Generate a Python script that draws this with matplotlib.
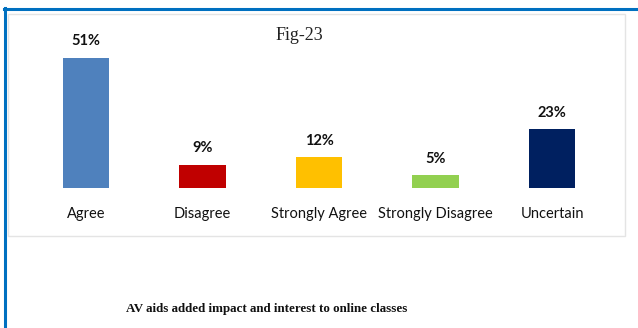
import matplotlib
matplotlib.use("Agg")
import matplotlib.pyplot as plt
from matplotlib.patches import Rectangle
from matplotlib.lines import Line2D

categories = ["Agree", "Disagree", "Strongly Agree", "Strongly Disagree", "Uncertain"]
values = [51, 9, 12, 5, 23]
value_labels = ["51%", "9%", "12%", "5%", "23%"]
colors = ["#4F81BD", "#C00000", "#FFC000", "#92D050", "#002060"]
fig_label = "Fig-23"
caption = "AV aids added impact and interest to online classes"

W, H = 638, 328
fig = plt.figure(figsize=(W / 100, H / 100), dpi=100)


def px_rect(x0, y0, x1, y1):
    """Pixel box (top-left origin) -> figure fraction [l, b, w, h]."""
    return [x0 / W, 1 - y1 / H, (x1 - x0) / W, (y1 - y0) / H]


def fx(x):
    return x / W


def fy(y):
    return 1 - y / H


# outer frame: blue rule on top and left
fig.add_artist(Line2D([fx(4), fx(638)], [fy(8.5), fy(8.5)], color="#0070C0", lw=2.2))
fig.add_artist(Line2D([fx(5), fx(5)], [fy(8), fy(328)], color="#0070C0", lw=2.2))
# light chart-area box
fig.add_artist(Rectangle((fx(8), fy(236)), fx(625) - fx(8), fy(14) - fy(236),
                         transform=fig.transFigure, fill=False,
                         edgecolor="#E4E4E4", lw=1.0))

# plot area: bar baseline at y=188 px, 2.55 px per percent
ymax = 60
top_px = 188 - ymax * 2.55
ax = fig.add_axes(px_rect(27.75, top_px, 610.25, 188))
ax.set_xlim(-0.5, 4.5)
ax.set_ylim(0, ymax)
ax.patch.set_alpha(0)

xs = list(range(len(categories)))
bars = ax.bar(xs, values, width=0.4, color=colors)
for b, lab in zip(bars, value_labels):
    ax.annotate(lab, (b.get_x() + b.get_width() / 2, b.get_height()),
                xytext=(0, 7), textcoords="offset points", ha="center", va="bottom",
                fontsize=10.5, fontweight="bold", family="Lato", color="#111111")

ax.set_xticks(xs)
ax.set_xticklabels(categories, fontsize=10.5, family="Lato", color="#111111")
ax.tick_params(axis="x", length=0, pad=13.5)
ax.set_yticks([])
for s in ax.spines.values():
    s.set_visible(False)

fig.text(fx(299), fy(36), fig_label, ha="center", va="center",
         family="Liberation Serif", fontsize=13, color="#222222")
fig.text(fx(267), fy(309), caption, ha="center", va="center",
         family="Liberation Serif", fontweight="bold", fontsize=9.4, color="#111111")

fig.savefig("out.png", dpi=100, facecolor="white")
